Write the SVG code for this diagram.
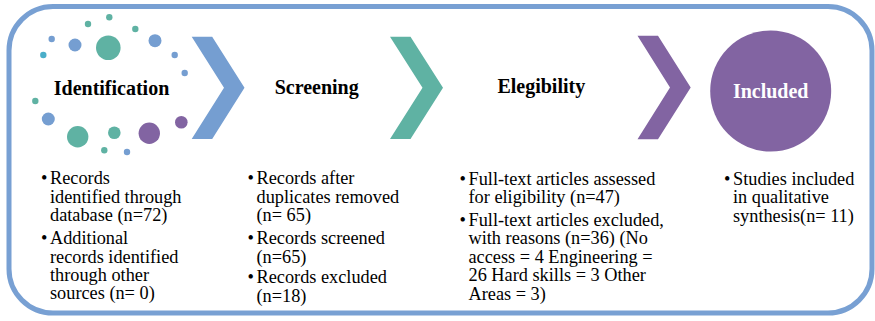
<svg xmlns="http://www.w3.org/2000/svg" width="875" height="321" viewBox="0 0 875 321">
  <style>
    .frame { fill: none; stroke: #78a0d3; stroke-width: 5; }
    .blue { fill: #759ed1; }
    .teal { fill: #5fb2a3; }
    .purple { fill: #8264a2; }
    .cyan { fill: #4aaec9; }
    .title { font-family: "Times New Roman", "Liberation Serif", "DejaVu Serif", serif; font-weight: bold; font-size: 20px; fill: #000; text-anchor: middle; }
    .title.light { fill: #fff; }
    .body { font-family: "Times New Roman", "Liberation Serif", "DejaVu Serif", serif; font-size: 18.3px; fill: #000; }
  </style>

  <!-- outer rounded frame -->
  <rect class="frame" x="9" y="6.5" width="863" height="306.5" rx="44" ry="44"/>

  <!-- connectors: stage chevrons -->
  <g id="connectors">
    <path class="blue" d="M191.7,36.7 L212.2,36.7 L244.5,87.8 L212.2,139 L191.7,139 L224,87.8 Z"/>
    <path class="teal" d="M390,36.7 L410.5,36.7 L443,87.8 L410.5,139 L390,139 L422.5,87.8 Z"/>
    <path class="purple" d="M637.5,35.7 L658,35.7 L690.7,87.5 L658,139.3 L637.5,139.3 L670,87.5 Z"/>
  </g>

  <!-- stage 1: identification with dotted ring -->
  <g id="identification">
    <circle class="blue" cx="51.7" cy="39" r="3.2"/>
    <circle class="cyan" cx="43.3" cy="55" r="3.2"/>
    <circle class="blue" cx="75" cy="45" r="6.5"/>
    <circle class="teal" cx="108.3" cy="47.7" r="12.3"/>
    <circle class="teal" cx="88" cy="24" r="3.2"/>
    <circle class="teal" cx="109.3" cy="17.3" r="3.2"/>
    <circle class="teal" cx="135.3" cy="29" r="3.2"/>
    <circle class="blue" cx="155" cy="40.7" r="6.5"/>
    <circle class="blue" cx="174.7" cy="55" r="3.2"/>
    <circle class="blue" cx="184.7" cy="73" r="3.2"/>
    <circle class="teal" cx="35.3" cy="101" r="3.2"/>
    <circle class="blue" cx="48.3" cy="119" r="6.5"/>
    <circle class="teal" cx="77.7" cy="136.7" r="10.7"/>
    <circle class="teal" cx="114.3" cy="132.7" r="6.3"/>
    <circle class="purple" cx="149.3" cy="133.3" r="10.7"/>
    <circle class="purple" cx="181.3" cy="122.3" r="6.3"/>
    <circle class="teal" cx="104.3" cy="150.3" r="3.2"/>
    <circle class="blue" cx="127" cy="152" r="3.2"/>
    <text class="title" x="111.5" y="95">Identification</text>
    <text class="body">
      <tspan x="41" y="184.3">•</tspan><tspan x="50" y="184.3">Records</tspan>
      <tspan x="50" y="202.7">identified through</tspan>
      <tspan x="50" y="221">database (n=72)</tspan>
      <tspan x="41" y="244.3">•</tspan><tspan x="50" y="244.3">Additional</tspan>
      <tspan x="50" y="262.7">records identified</tspan>
      <tspan x="50" y="281">through other</tspan>
      <tspan x="50" y="299.3">sources (n= 0)</tspan>
    </text>
  </g>

  <!-- stage 2: screening -->
  <g id="screening">
    <text class="title" x="316.7" y="94">Screening</text>
    <text class="body">
      <tspan x="247.5" y="184.3">•</tspan><tspan x="256.5" y="184.3">Records after</tspan>
      <tspan x="256.5" y="202.7">duplicates removed</tspan>
      <tspan x="256.5" y="221">(n= 65)</tspan>
      <tspan x="247.5" y="244">•</tspan><tspan x="256.5" y="244">Records screened</tspan>
      <tspan x="256.5" y="262.5">(n=65)</tspan>
      <tspan x="247.5" y="283">•</tspan><tspan x="256.5" y="283">Records excluded</tspan>
      <tspan x="256.5" y="301.5">(n=18)</tspan>
    </text>
  </g>

  <!-- stage 3: eligibility -->
  <g id="eligibility">
    <text class="title" x="541.3" y="93.3">Elegibility</text>
    <text class="body">
      <tspan x="459.5" y="184.5">•</tspan><tspan x="468.5" y="184.5">Full-text articles assessed</tspan>
      <tspan x="468.5" y="203">for eligibility (n=47)</tspan>
      <tspan x="459.5" y="225.5">•</tspan><tspan x="468.5" y="225.5">Full-text articles excluded,</tspan>
      <tspan x="468.5" y="244">with reasons (n=36) (No</tspan>
      <tspan x="468.5" y="262.5">access = 4 Engineering =</tspan>
      <tspan x="468.5" y="281">26 Hard skills = 3 Other</tspan>
      <tspan x="468.5" y="299.5">Areas = 3)</tspan>
    </text>
  </g>

  <!-- stage 4: included -->
  <g id="included">
    <circle class="purple" cx="770.7" cy="91" r="60.5"/>
    <text class="title light" x="770.7" y="98">Included</text>
    <text class="body">
      <tspan x="724" y="184.5">•</tspan><tspan x="733" y="184.5">Studies included</tspan>
      <tspan x="733" y="203">in qualitative</tspan>
      <tspan x="733" y="221.5">synthesis(n= 11)</tspan>
    </text>
  </g>
</svg>
